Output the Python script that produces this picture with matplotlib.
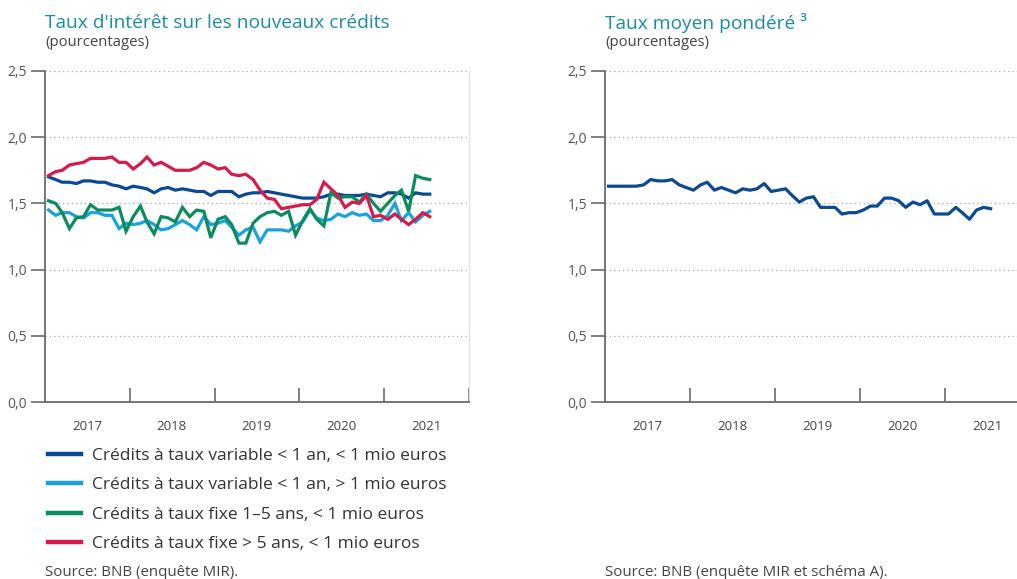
import numpy as np
import pandas as pd
import matplotlib
matplotlib.use('Agg')
import matplotlib.pyplot as plt
import matplotlib.dates as mdates
from matplotlib.lines import Line2D
from matplotlib.ticker import FuncFormatter, NullFormatter

plt.rcParams['font.family'] = ['Open Sans', 'DejaVu Sans']

# monthly observations, jan 2017 - jul 2021
months = pd.date_range('2017-01-01', periods=55, freq='MS') + pd.Timedelta(days=15)

var_small = [1.70, 1.68, 1.66, 1.66, 1.65, 1.67, 1.67, 1.66, 1.66, 1.64,
             1.63, 1.61, 1.63, 1.62, 1.61, 1.58, 1.61, 1.62, 1.60, 1.61,
             1.60, 1.59, 1.59, 1.56, 1.59, 1.59, 1.59, 1.55, 1.57, 1.58,
             1.58, 1.59, 1.58, 1.57, 1.56, 1.55, 1.54, 1.54, 1.54, 1.55,
             1.57, 1.57, 1.56, 1.56, 1.56, 1.57, 1.56, 1.55, 1.58, 1.58,
             1.57, 1.54, 1.58, 1.57, 1.57]
var_large = [1.45, 1.41, 1.43, 1.43, 1.40, 1.39, 1.43, 1.43, 1.41, 1.41,
             1.31, 1.35, 1.34, 1.35, 1.37, 1.34, 1.30, 1.31, 1.34, 1.37,
             1.34, 1.30, 1.40, 1.34, 1.35, 1.37, 1.32, 1.26, 1.30, 1.32,
             1.21, 1.30, 1.30, 1.30, 1.29, 1.33, 1.36, 1.45, 1.39, 1.37,
             1.38, 1.42, 1.40, 1.43, 1.41, 1.42, 1.37, 1.37, 1.41, 1.50,
             1.37, 1.43, 1.36, 1.41, 1.44]
fix_1_5 = [1.52, 1.50, 1.43, 1.31, 1.39, 1.40, 1.49, 1.45, 1.45, 1.45,
           1.47, 1.29, 1.40, 1.48, 1.36, 1.27, 1.40, 1.39, 1.36, 1.47,
           1.40, 1.45, 1.44, 1.24, 1.38, 1.40, 1.34, 1.20, 1.20, 1.35,
           1.40, 1.43, 1.44, 1.41, 1.44, 1.26, 1.37, 1.46, 1.38, 1.33,
           1.58, 1.54, 1.55, 1.55, 1.51, 1.57, 1.50, 1.44, 1.50, 1.56,
           1.60, 1.44, 1.71, 1.69, 1.68]
fix_5 = [1.71, 1.74, 1.75, 1.79, 1.80, 1.81, 1.84, 1.84, 1.84, 1.85,
         1.81, 1.81, 1.76, 1.80, 1.85, 1.79, 1.81, 1.78, 1.75, 1.75,
         1.75, 1.77, 1.81, 1.79, 1.76, 1.77, 1.72, 1.71, 1.72, 1.68,
         1.60, 1.54, 1.53, 1.46, 1.47, 1.48, 1.49, 1.49, 1.53, 1.66,
         1.61, 1.56, 1.47, 1.51, 1.50, 1.56, 1.40, 1.41, 1.38, 1.42,
         1.38, 1.34, 1.38, 1.43, 1.40]
weighted = [1.63, 1.63, 1.63, 1.63, 1.63, 1.64, 1.68, 1.67, 1.67, 1.68,
            1.64, 1.62, 1.60, 1.64, 1.66, 1.60, 1.62, 1.60, 1.58, 1.61,
            1.60, 1.61, 1.65, 1.59, 1.60, 1.61, 1.56, 1.51, 1.54, 1.55,
            1.47, 1.47, 1.47, 1.42, 1.43, 1.43, 1.45, 1.48, 1.48, 1.54,
            1.54, 1.52, 1.47, 1.51, 1.49, 1.52, 1.42, 1.42, 1.42, 1.47,
            1.43, 1.38, 1.45, 1.47, 1.46]

labels = ['Crédits à taux variable < 1 an, < 1 mio euros',
          'Crédits à taux variable < 1 an, > 1 mio euros',
          'Crédits à taux fixe 1–5 ans, < 1 mio euros',
          'Crédits à taux fixe > 5 ans, < 1 mio euros']
colors = ['#0b4a92', '#1aa2e0', '#0b8c5f', '#d61a4c']
years = [2017, 2018, 2019, 2020, 2021]
yticks = [0, 0.5, 1.0, 1.5, 2.0, 2.5]

TEAL = '#1a8ca8'
GREY = '#6b6b6b'

W, H = 1017, 579
fig = plt.figure(figsize=(W / 100, H / 100), dpi=100)


def setup_axis(ax):
    ax.set_xlim(pd.Timestamp('2017-01-01'), pd.Timestamp('2022-01-01'))
    ax.set_ylim(0, 2.5)
    ax.set_yticks(yticks)
    ax.yaxis.set_major_formatter(FuncFormatter(lambda v, p: f'{v:.1f}'.replace('.', ',')))
    ax.tick_params(axis='y', direction='out', length=10, width=1.2, color=GREY,
                   labelsize=10, labelcolor='#555555', pad=3)
    # year boundaries as ticks, year names centred in between
    ax.set_xticks([pd.Timestamp(f'{y}-01-01') for y in years[1:] + [2022]])
    ax.xaxis.set_major_formatter(NullFormatter())
    ax.set_xticks([pd.Timestamp(f'{y}-07-01') for y in years], minor=True)
    ax.set_xticklabels([str(y) for y in years], minor=True)
    ax.tick_params(axis='x', which='major', direction='in', length=10, width=1.2, color=GREY)
    ax.tick_params(axis='x', which='minor', length=0, labelsize=9.5,
                   labelcolor='#444444', pad=13)
    for y in yticks[1:]:
        ax.axhline(y, color='#a8a8a8', lw=0.9, ls=(0, (1, 2.5)), zorder=0)
    ax.spines['top'].set_visible(False)
    ax.spines['left'].set_color(GREY)
    ax.spines['left'].set_linewidth(1.3)
    ax.spines['bottom'].set_color(GREY)
    ax.spines['bottom'].set_linewidth(1.3)
    ax.spines['right'].set_color('#e2e2e2')
    ax.spines['right'].set_linewidth(1.0)


ax1 = fig.add_axes([45 / W, 1 - 402 / H, 424 / W, 331 / H])
setup_axis(ax1)
handles = []
for serie, c, lab in zip([var_small, var_large, fix_1_5, fix_5], colors, labels):
    ax1.plot(months, serie, color=c, lw=2.3, label=lab, solid_joinstyle='miter')
    handles.append(Line2D([], [], color=c, lw=3.2))

ax2 = fig.add_axes([605 / W, 1 - 402 / H, 425 / W, 331 / H])
setup_axis(ax2)
ax2.spines['right'].set_visible(False)
ax2.plot(months, weighted, color=colors[0], lw=2.3)

fig.text(45 / W, 1 - 23 / H, "Taux d'intérêt sur les nouveaux crédits", color=TEAL,
         fontsize=13.8, va='center', ha='left')
fig.text(45 / W, 1 - 42 / H, '(pourcentages)', color='#444444', fontsize=10.7,
         va='center', ha='left')
fig.text(605 / W, 1 - 23 / H, 'Taux moyen pondéré ³', color=TEAL,
         fontsize=13.8, va='center', ha='left')
fig.text(605 / W, 1 - 42 / H, '(pourcentages)', color='#444444', fontsize=10.7,
         va='center', ha='left')

fig.legend(handles, labels, loc='upper left', bbox_to_anchor=(41 / W, 1 - 441 / H),
           frameon=False, fontsize=12.5, handlelength=1.9, handletextpad=0.66,
           labelspacing=0.76, borderaxespad=0, labelcolor='#333333')

fig.text(45 / W, 1 - 572 / H, 'Source: BNB (enquête MIR).', color='#444444',
         fontsize=10.8, va='center', ha='left')
fig.text(605 / W, 1 - 572 / H, 'Source: BNB (enquête MIR et schéma A).', color='#444444',
         fontsize=10.8, va='center', ha='left')

fig.savefig('out.png', dpi=100)
